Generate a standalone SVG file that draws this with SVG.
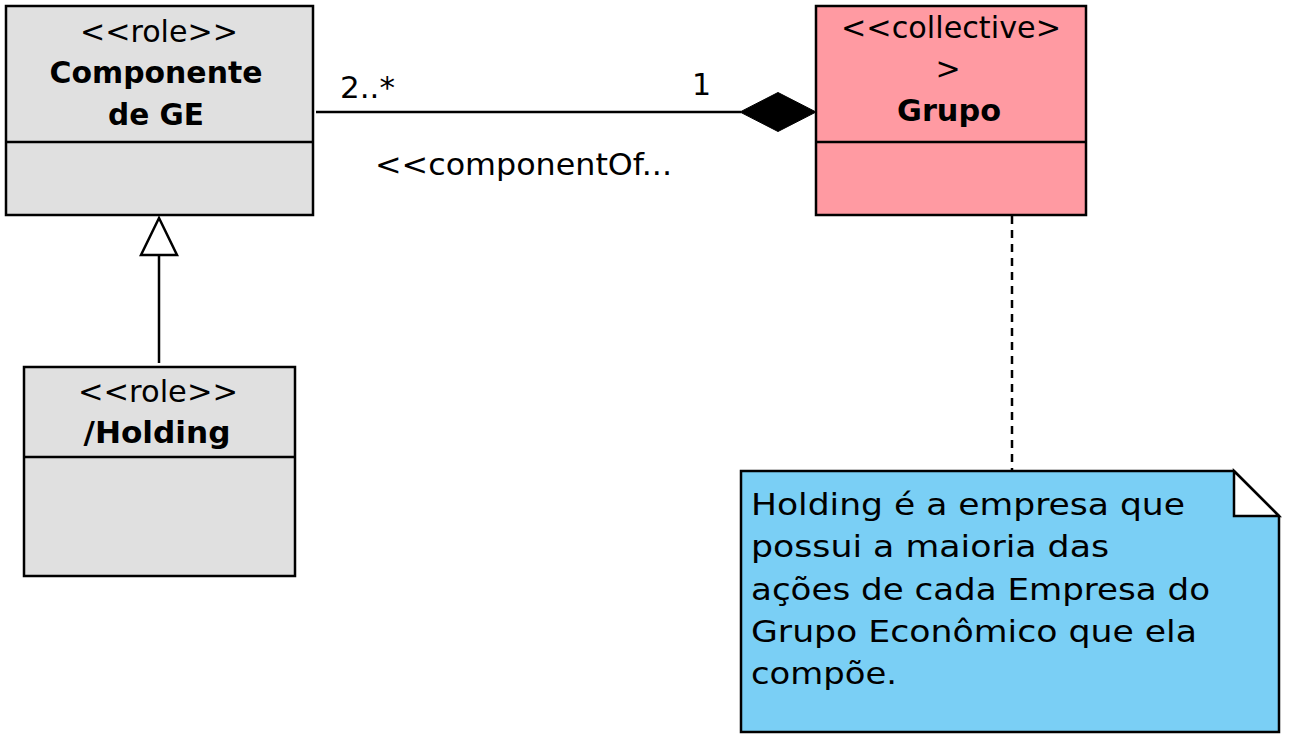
<svg xmlns="http://www.w3.org/2000/svg" width="1293" height="747" viewBox="0 0 1293 747">
<style>
text{font-family:"DejaVu Sans","Liberation Sans",sans-serif;font-size:30px;fill:#000}
.b{font-weight:bold}
.m{text-anchor:middle}
.box{stroke:#000;stroke-width:2.5}
.ln{stroke:#000;stroke-width:2.5;fill:none}
</style>
<rect width="1293" height="747" fill="#fff"/>
<g id="connectors">
<line class="ln" x1="316" y1="112" x2="741" y2="112"/>
<polygon points="740,112 778,92.5 816,112 778,131.5" fill="#000" stroke="#000" stroke-width="1"/>
<line class="ln" x1="159" y1="363" x2="159" y2="255"/>
<polygon points="159,218 177,255 141,255" fill="#fff" stroke="#000" stroke-width="2.5"/>
<line class="ln" x1="1012" y1="216" x2="1012" y2="471" stroke-dasharray="8,6"/>
<text x="340" y="98" textLength="55" lengthAdjust="spacingAndGlyphs">2..*</text>
<text x="692" y="95">1</text>
<text x="375" y="175" textLength="297" lengthAdjust="spacingAndGlyphs">&lt;&lt;componentOf...</text>
</g>
<g id="componente">
<rect class="box" x="6" y="6" width="307" height="209" fill="#E0E0E0"/>
<line class="ln" x1="6" y1="142" x2="313" y2="142"/>
<text class="m" x="159" y="42" textLength="158" lengthAdjust="spacingAndGlyphs">&lt;&lt;role&gt;&gt;</text>
<text class="m b" x="156" y="83" textLength="213" lengthAdjust="spacingAndGlyphs">Componente</text>
<text class="m b" x="156" y="125" textLength="96" lengthAdjust="spacingAndGlyphs">de GE</text>
</g>
<g id="grupo">
<rect class="box" x="816" y="6" width="270" height="209" fill="#FF9AA2"/>
<line class="ln" x1="816" y1="142" x2="1086" y2="142"/>
<text class="m" x="951" y="38" textLength="220" lengthAdjust="spacingAndGlyphs">&lt;&lt;collective&gt;</text>
<text class="m" x="948" y="79">&gt;</text>
<text class="m b" x="949" y="121" textLength="104" lengthAdjust="spacingAndGlyphs">Grupo</text>
</g>
<g id="holding">
<rect class="box" x="24" y="367" width="271" height="209" fill="#E0E0E0"/>
<line class="ln" x1="24" y1="457" x2="295" y2="457"/>
<text class="m" x="158" y="402" textLength="160" lengthAdjust="spacingAndGlyphs">&lt;&lt;role&gt;&gt;</text>
<text class="m b" x="157" y="443" textLength="147" lengthAdjust="spacingAndGlyphs">/Holding</text>
</g>
<g id="note">
<polygon class="box" points="741,471 1234,471 1279,516 1279,732 741,732" fill="#7ACFF5"/>
<polygon class="box" points="1234,471 1234,516 1279,516" fill="#fff" stroke-linejoin="miter"/>
<text x="751" y="515" textLength="434" lengthAdjust="spacingAndGlyphs">Holding é a empresa que</text>
<text x="751" y="557" textLength="358" lengthAdjust="spacingAndGlyphs">possui a maioria das</text>
<text x="751" y="600" textLength="459" lengthAdjust="spacingAndGlyphs">ações de cada Empresa do</text>
<text x="751" y="642" textLength="446" lengthAdjust="spacingAndGlyphs">Grupo Econômico que ela</text>
<text x="751" y="684" textLength="146" lengthAdjust="spacingAndGlyphs">compõe.</text>
</g>
</svg>
